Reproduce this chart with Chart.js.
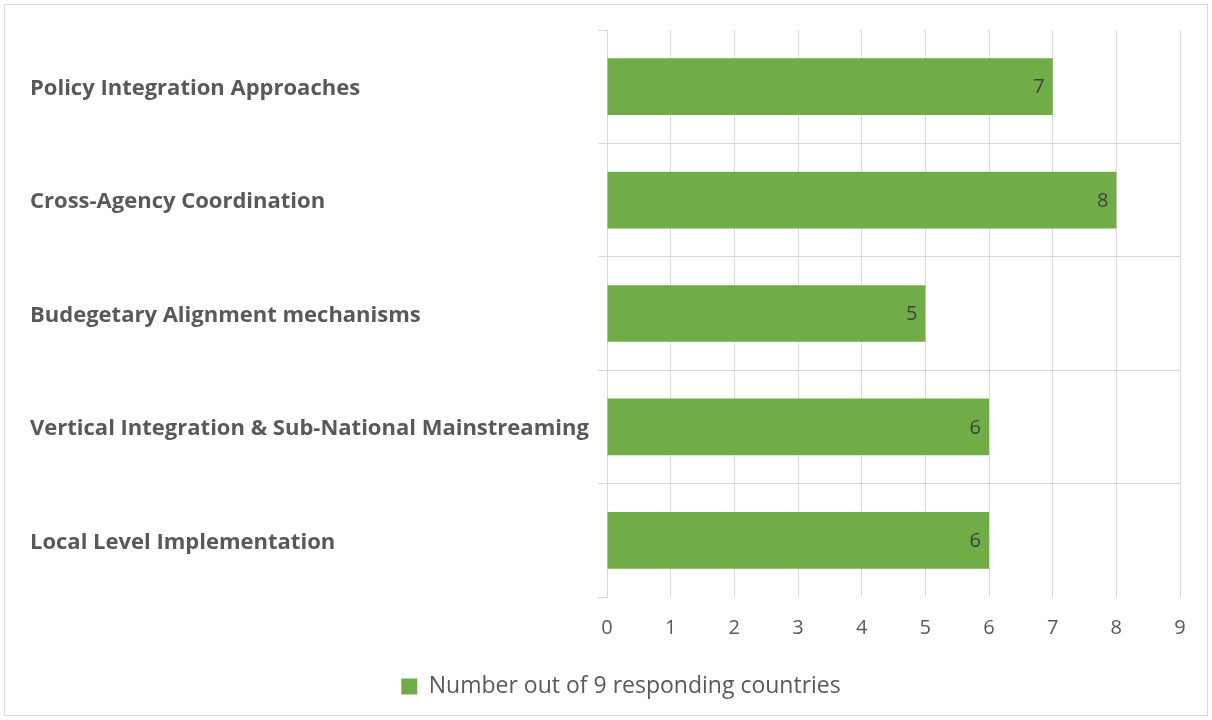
<!DOCTYPE html>
<html>
<head>
<meta charset="utf-8">
<script src="https://cdn.jsdelivr.net/npm/chart.js@4"></script>
<style>
  html, body { margin: 0; padding: 0; background: #fff; }
  #wrap { width: 1212px; height: 720px; }
</style>
</head>
<body>
<div id="wrap"><canvas id="chart" width="1212" height="720"></canvas></div>
<script>
const categories = [
  "Policy Integration Approaches",
  "Cross-Agency Coordination",
  "Budegetary Alignment mechanisms",
  "Vertical Integration & Sub-National Mainstreaming",
  "Local Level Implementation",
];
const counts = [7, 8, 5, 6, 6];
const xTicks = [0, 1, 2, 3, 4, 5, 6, 7, 8, 9];
const seriesLabel = "Number out of 9 responding countries";

const green = "#70AD47";
const gridGray = "#d9d9d9";
const textGray = "#595959";

// white background + thin frame round the picture
const frame = {
  id: "frame",
  beforeDraw(chart) {
    const c = chart.ctx;
    c.save();
    c.fillStyle = "#fff";
    c.fillRect(0, 0, chart.width, chart.height);
    c.strokeStyle = gridGray;
    c.lineWidth = 1;
    c.strokeRect(4.5, 4.5, chart.width - 9, chart.height - 9);
    c.restore();
  },
};

// value labels just inside the end of each bar
const valueLabels = {
  id: "valueLabels",
  afterDatasetsDraw(chart) {
    const c = chart.ctx;
    const meta = chart.getDatasetMeta(0);
    c.save();
    c.font = "20px 'Open Sans'";
    c.fillStyle = "#404040";
    c.textAlign = "right";
    c.textBaseline = "middle";
    meta.data.forEach((bar, i) => {
      c.fillText(String(counts[i]), bar.x - 8, bar.y + 1);
    });
    c.restore();
  },
};

new Chart(document.getElementById("chart"), {
  type: "bar",
  data: {
    labels: categories,
    datasets: [
      {
        label: seriesLabel,
        data: counts,
        backgroundColor: green,
        barPercentage: 0.5,
        categoryPercentage: 1,
      },
    ],
  },
  plugins: [frame, valueLabels],
  options: {
    indexAxis: "y",
    responsive: false,
    animation: false,
    layout: { padding: { left: 30, right: 0, top: 30, bottom: 12 } },
    scales: {
      x: {
        min: 0,
        max: 9,
        afterBuildTicks(scale) {
          scale.ticks = xTicks.map((v) => ({ value: v }));
        },
        afterFit(scale) {
          scale.paddingRight = 32;
          scale.height = 68;
        },
        grid: { color: gridGray, drawTicks: false },
        border: { display: false },
        ticks: {
          padding: 19,
          color: textGray,
          font: { family: "'Open Sans'", size: 20 },
        },
      },
      y: {
        afterFit(scale) {
          scale.width = 607 - 30;
        },
        grid: {
          offset: true,
          tickLength: 9,
          tickColor: gridGray,
          color: (ctx) =>
            ctx.index === 0 || ctx.type !== "tick" ? "transparent" : gridGray,
        },
        border: { display: true, color: gridGray },
        ticks: {
          crossAlign: "far",
          padding: 12,
          labelOffset: 2,
          color: textGray,
          font: { family: "'Open Sans'", size: 22, weight: "bold" },
        },
      },
    },
    plugins: {
      legend: {
        position: "bottom",
        labels: {
          boxWidth: 16,
          boxHeight: 16,
          color: textGray,
          padding: 10,
          font: { family: "'Open Sans'", size: 23 },
        },
      },
      tooltip: { enabled: false },
    },
  },
});
</script>
</body>
</html>
